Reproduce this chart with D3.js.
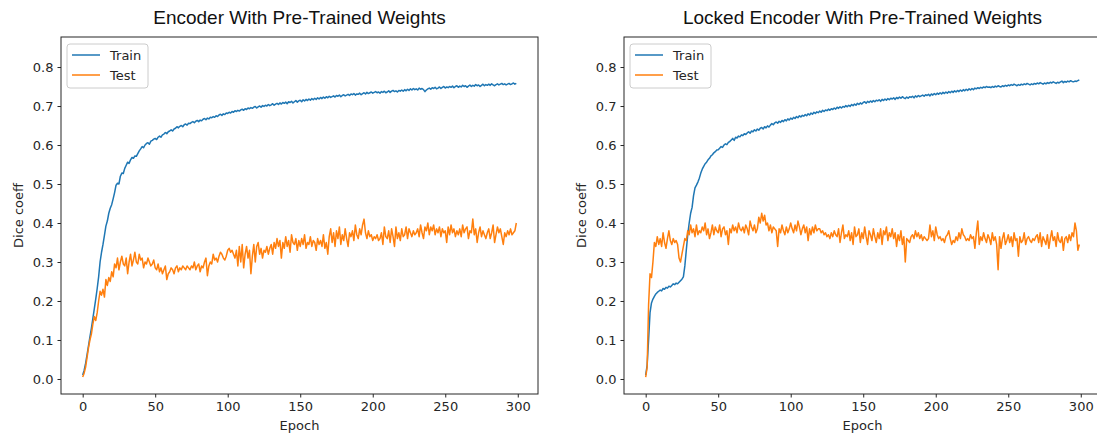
<!DOCTYPE html>
<html lang="en">
<head>
<meta charset="UTF-8">
<title>Dice coeff</title>
<style>
  body { margin: 0; padding: 0; background: #fff; }
  svg { display: block; }
  .tick text { font-family: "DejaVu Sans", sans-serif; font-size: 13px; fill: #262626; }
  .tick line { stroke: #262626; }
  .axis-label { font-family: "DejaVu Sans", sans-serif; font-size: 13px; fill: #262626; }
  .title { font-family: "Liberation Sans", Arial, sans-serif; font-size: 19px; fill: #111; }
  .legend text { font-family: "DejaVu Sans", sans-serif; font-size: 13px; fill: #262626; }
</style>
</head>
<body>
<div id="chart"></div>
<script src="https://cdn.jsdelivr.net/npm/d3@7"></script>
<script>

// data
const titles = ["Encoder With Pre-Trained Weights", "Locked Encoder With Pre-Trained Weights"];
const seriesNames = ["Train", "Test"];
const xTicks = [0, 50, 100, 150, 200, 250, 300];
const yTicks = [0.0, 0.1, 0.2, 0.3, 0.4, 0.5, 0.6, 0.7, 0.8];

const trainA = [
  0.010, 0.022, 0.040, 0.062, 0.085, 0.108, 0.130, 0.155, 0.180, 0.205,
  0.232, 0.262, 0.300, 0.325, 0.345, 0.368, 0.392, 0.405, 0.425, 0.438,
  0.447, 0.462, 0.478, 0.497, 0.502, 0.500, 0.520, 0.528, 0.527, 0.540,
  0.548, 0.556, 0.553, 0.562, 0.568, 0.566, 0.572, 0.571, 0.578, 0.585,
  0.590, 0.596, 0.593, 0.600, 0.604, 0.606, 0.602, 0.610, 0.612, 0.615,
  0.617, 0.614, 0.620, 0.623, 0.620, 0.626, 0.628, 0.632, 0.629, 0.634,
  0.636, 0.639, 0.636, 0.641, 0.643, 0.647, 0.644, 0.648, 0.650, 0.647,
  0.652, 0.654, 0.651, 0.656, 0.655, 0.658, 0.660, 0.657, 0.661, 0.663,
  0.660, 0.664, 0.662, 0.666, 0.668, 0.665, 0.669, 0.667, 0.671, 0.670,
  0.673, 0.671, 0.675, 0.673, 0.677, 0.679, 0.676, 0.680, 0.678, 0.682,
  0.681, 0.684, 0.682, 0.686, 0.684, 0.688, 0.686, 0.689, 0.687, 0.690,
  0.692, 0.689, 0.693, 0.691, 0.695, 0.693, 0.696, 0.694, 0.697, 0.699,
  0.695, 0.698, 0.700, 0.697, 0.701, 0.699, 0.702, 0.700, 0.704, 0.701,
  0.703, 0.706, 0.702, 0.705, 0.707, 0.704, 0.708, 0.705, 0.709, 0.707,
  0.710, 0.706, 0.711, 0.709, 0.712, 0.708, 0.711, 0.714, 0.710, 0.713,
  0.715, 0.711, 0.716, 0.713, 0.717, 0.714, 0.718, 0.715, 0.719, 0.716,
  0.720, 0.717, 0.721, 0.718, 0.722, 0.719, 0.723, 0.720, 0.724, 0.721,
  0.725, 0.722, 0.724, 0.726, 0.723, 0.727, 0.725, 0.728, 0.724, 0.727,
  0.729, 0.726, 0.728, 0.730, 0.727, 0.731, 0.729, 0.732, 0.728, 0.731,
  0.730, 0.733, 0.729, 0.732, 0.734, 0.731, 0.735, 0.732, 0.734, 0.736,
  0.733, 0.735, 0.737, 0.734, 0.736, 0.733, 0.737, 0.735, 0.738, 0.734,
  0.736, 0.739, 0.735, 0.738, 0.740, 0.737, 0.739, 0.736, 0.740, 0.738,
  0.741, 0.738, 0.742, 0.739, 0.743, 0.740, 0.744, 0.741, 0.745, 0.742,
  0.744, 0.741, 0.746, 0.743, 0.745, 0.742, 0.737, 0.741, 0.744, 0.746,
  0.743, 0.747, 0.745, 0.748, 0.744, 0.746, 0.749, 0.745, 0.748, 0.750,
  0.746, 0.749, 0.747, 0.750, 0.748, 0.751, 0.747, 0.750, 0.752, 0.748,
  0.751, 0.749, 0.753, 0.750, 0.752, 0.748, 0.751, 0.754, 0.750, 0.753,
  0.751, 0.755, 0.752, 0.754, 0.750, 0.753, 0.756, 0.752, 0.755, 0.753,
  0.756, 0.753, 0.757, 0.754, 0.752, 0.755, 0.757, 0.754, 0.756, 0.758,
  0.755, 0.757, 0.754, 0.756, 0.758, 0.755, 0.757, 0.759, 0.756, 0.758
];

const testA = [
  0.005, 0.015, 0.030, 0.055, 0.080, 0.100, 0.115, 0.140, 0.160, 0.150,
  0.170, 0.200, 0.225, 0.215, 0.230, 0.210, 0.255, 0.240, 0.260, 0.250,
  0.275, 0.262, 0.295, 0.285, 0.310, 0.280, 0.300, 0.315, 0.295, 0.290,
  0.310, 0.270, 0.300, 0.320, 0.290, 0.305, 0.325, 0.300, 0.295, 0.320,
  0.305, 0.310, 0.285, 0.300, 0.295, 0.310, 0.300, 0.290, 0.295, 0.305,
  0.285, 0.280, 0.295, 0.275, 0.285, 0.270, 0.280, 0.290, 0.255, 0.270,
  0.275, 0.285, 0.280, 0.270, 0.285, 0.290, 0.275, 0.285, 0.280, 0.290,
  0.285, 0.280, 0.290, 0.285, 0.280, 0.290, 0.285, 0.300, 0.280, 0.290,
  0.295, 0.275, 0.290, 0.285, 0.300, 0.310, 0.265, 0.290, 0.300, 0.295,
  0.320, 0.305, 0.310, 0.300, 0.315, 0.325, 0.320, 0.310, 0.305, 0.315,
  0.330, 0.335, 0.325, 0.330, 0.320, 0.310, 0.330, 0.290, 0.340, 0.300,
  0.345, 0.285, 0.320, 0.340, 0.310, 0.330, 0.270, 0.315, 0.345, 0.300,
  0.340, 0.350, 0.320, 0.335, 0.310, 0.330, 0.325, 0.340, 0.320, 0.335,
  0.345, 0.320, 0.350, 0.335, 0.360, 0.340, 0.355, 0.310, 0.350, 0.335,
  0.365, 0.340, 0.355, 0.325, 0.370, 0.350, 0.345, 0.360, 0.330, 0.355,
  0.340, 0.360, 0.345, 0.370, 0.335, 0.350, 0.345, 0.365, 0.340, 0.355,
  0.350, 0.330, 0.360, 0.345, 0.355, 0.340, 0.370, 0.335, 0.350, 0.320,
  0.365, 0.385, 0.350, 0.375, 0.340, 0.380, 0.360, 0.390, 0.345, 0.370,
  0.355, 0.385, 0.360, 0.340, 0.375, 0.365, 0.380, 0.355, 0.395, 0.370,
  0.360, 0.385, 0.370, 0.395, 0.410, 0.375, 0.360, 0.380, 0.365, 0.370,
  0.355, 0.365, 0.360, 0.370, 0.355, 0.360, 0.375, 0.345, 0.390, 0.365,
  0.360, 0.380, 0.350, 0.385, 0.365, 0.340, 0.390, 0.360, 0.375, 0.355,
  0.385, 0.365, 0.370, 0.390, 0.360, 0.385, 0.375, 0.365, 0.380, 0.370,
  0.375, 0.385, 0.365, 0.395, 0.375, 0.360, 0.390, 0.380, 0.400, 0.370,
  0.390, 0.380, 0.395, 0.370, 0.385, 0.375, 0.390, 0.365, 0.385, 0.375,
  0.380, 0.350, 0.390, 0.370, 0.395, 0.375, 0.385, 0.365, 0.380, 0.370,
  0.385, 0.365, 0.395, 0.375, 0.385, 0.390, 0.360, 0.380, 0.375, 0.410,
  0.370, 0.385, 0.350, 0.375, 0.390, 0.365, 0.380, 0.370, 0.360, 0.375,
  0.385, 0.360, 0.375, 0.395, 0.350, 0.370, 0.390, 0.375, 0.385, 0.365,
  0.345, 0.375, 0.365, 0.380, 0.370, 0.385, 0.370, 0.375, 0.380, 0.400
];

const trainB = [
  0.010, 0.035, 0.100, 0.170, 0.195, 0.205, 0.212, 0.218, 0.222, 0.225,
  0.228, 0.226, 0.232, 0.230, 0.235, 0.233, 0.238, 0.236, 0.240, 0.244,
  0.242, 0.246, 0.244, 0.248, 0.252, 0.256, 0.262, 0.290, 0.330, 0.370,
  0.400, 0.425, 0.440, 0.470, 0.490, 0.497, 0.505, 0.515, 0.528, 0.538,
  0.545, 0.552, 0.556, 0.562, 0.566, 0.572, 0.575, 0.580, 0.583, 0.587,
  0.588, 0.592, 0.596, 0.594, 0.600, 0.603, 0.601, 0.607, 0.609, 0.613,
  0.617, 0.612, 0.620, 0.618, 0.623, 0.621, 0.626, 0.624, 0.629, 0.627,
  0.631, 0.634, 0.630, 0.636, 0.634, 0.639, 0.636, 0.641, 0.638, 0.643,
  0.645, 0.641, 0.647, 0.644, 0.649, 0.646, 0.651, 0.655, 0.652, 0.657,
  0.659, 0.656, 0.661, 0.658, 0.663, 0.660, 0.665, 0.662, 0.667, 0.664,
  0.669, 0.666, 0.671, 0.668, 0.673, 0.670, 0.675, 0.672, 0.676, 0.674,
  0.678, 0.675, 0.680, 0.677, 0.682, 0.679, 0.684, 0.681, 0.685, 0.683,
  0.687, 0.684, 0.689, 0.686, 0.690, 0.688, 0.692, 0.689, 0.693, 0.691,
  0.695, 0.692, 0.697, 0.694, 0.698, 0.695, 0.699, 0.697, 0.701, 0.698,
  0.702, 0.699, 0.704, 0.701, 0.705, 0.702, 0.707, 0.704, 0.708, 0.705,
  0.709, 0.711, 0.707, 0.712, 0.709, 0.713, 0.710, 0.714, 0.711, 0.715,
  0.713, 0.716, 0.712, 0.717, 0.714, 0.718, 0.715, 0.719, 0.716, 0.720,
  0.718, 0.721, 0.717, 0.722, 0.719, 0.723, 0.720, 0.724, 0.721, 0.719,
  0.723, 0.720, 0.724, 0.722, 0.725, 0.721, 0.726, 0.723, 0.727, 0.724,
  0.726, 0.728, 0.725, 0.729, 0.727, 0.730, 0.726, 0.731, 0.728, 0.732,
  0.729, 0.733, 0.730, 0.734, 0.731, 0.735, 0.732, 0.736, 0.733, 0.737,
  0.734, 0.738, 0.735, 0.739, 0.736, 0.740, 0.737, 0.741, 0.738, 0.742,
  0.739, 0.743, 0.740, 0.744, 0.741, 0.745, 0.742, 0.746, 0.744, 0.747,
  0.745, 0.748, 0.746, 0.749, 0.747, 0.750, 0.748, 0.749, 0.747, 0.750,
  0.748, 0.751, 0.749, 0.752, 0.750, 0.749, 0.752, 0.750, 0.753, 0.751,
  0.754, 0.752, 0.755, 0.753, 0.756, 0.754, 0.752, 0.755, 0.753, 0.756,
  0.754, 0.757, 0.755, 0.758, 0.756, 0.754, 0.757, 0.755, 0.758, 0.756,
  0.759, 0.757, 0.760, 0.758, 0.756, 0.759, 0.757, 0.760, 0.758, 0.761,
  0.759, 0.762, 0.760, 0.758, 0.761, 0.759, 0.762, 0.764, 0.760, 0.763,
  0.761, 0.764, 0.762, 0.765, 0.763, 0.762, 0.764, 0.763, 0.765, 0.767
];

const testB = [
  0.005, 0.030, 0.190, 0.270, 0.260, 0.300, 0.350, 0.340, 0.365, 0.345,
  0.360, 0.340, 0.375, 0.350, 0.335, 0.360, 0.380, 0.355, 0.345, 0.360,
  0.350, 0.355, 0.345, 0.310, 0.300, 0.320, 0.340, 0.360, 0.355, 0.380,
  0.370, 0.395, 0.375, 0.385, 0.365, 0.395, 0.370, 0.380, 0.375, 0.390,
  0.380, 0.400, 0.370, 0.385, 0.360, 0.375, 0.395, 0.370, 0.390, 0.380,
  0.375, 0.395, 0.365, 0.385, 0.390, 0.370, 0.380, 0.345, 0.385, 0.375,
  0.395, 0.380, 0.390, 0.375, 0.400, 0.385, 0.380, 0.390, 0.375, 0.395,
  0.385, 0.370, 0.405, 0.390, 0.380, 0.395, 0.375, 0.385, 0.415, 0.400,
  0.425, 0.405, 0.420, 0.395, 0.400, 0.380, 0.395, 0.375, 0.390, 0.385,
  0.380, 0.340, 0.385, 0.375, 0.395, 0.380, 0.370, 0.390, 0.375, 0.385,
  0.400, 0.385, 0.375, 0.395, 0.380, 0.405, 0.390, 0.370, 0.385, 0.395,
  0.375, 0.390, 0.355, 0.385, 0.370, 0.390, 0.375, 0.395, 0.380, 0.385,
  0.385, 0.375, 0.380, 0.370, 0.375, 0.365, 0.370, 0.360, 0.375, 0.365,
  0.380, 0.370, 0.365, 0.385, 0.350, 0.375, 0.395, 0.360, 0.370, 0.365,
  0.380, 0.355, 0.375, 0.345, 0.390, 0.365, 0.370, 0.385, 0.350, 0.375,
  0.360, 0.390, 0.365, 0.345, 0.380, 0.370, 0.355, 0.385, 0.365, 0.350,
  0.375, 0.360, 0.385, 0.345, 0.380, 0.370, 0.390, 0.355, 0.375, 0.365,
  0.385, 0.360, 0.375, 0.340, 0.370, 0.355, 0.380, 0.345, 0.365, 0.300,
  0.360, 0.355, 0.350, 0.365, 0.370, 0.360, 0.380, 0.365, 0.375, 0.360,
  0.370, 0.355, 0.365, 0.360, 0.355, 0.360, 0.395, 0.365, 0.380, 0.355,
  0.390, 0.370, 0.360, 0.365, 0.355, 0.360, 0.350, 0.365, 0.370, 0.380,
  0.360, 0.345, 0.355, 0.350, 0.365, 0.355, 0.375, 0.360, 0.385, 0.370,
  0.365, 0.355, 0.360, 0.355, 0.370, 0.360, 0.365, 0.335, 0.375, 0.405,
  0.345, 0.365, 0.355, 0.375, 0.360, 0.350, 0.370, 0.360, 0.345, 0.375,
  0.355, 0.365, 0.345, 0.280, 0.365, 0.335, 0.360, 0.375, 0.345, 0.355,
  0.370, 0.350, 0.365, 0.340, 0.375, 0.355, 0.360, 0.315, 0.365, 0.350,
  0.355, 0.375, 0.345, 0.360, 0.365, 0.355, 0.350, 0.360, 0.355, 0.365,
  0.370, 0.350, 0.375, 0.340, 0.365, 0.355, 0.345, 0.370, 0.335, 0.360,
  0.380, 0.355, 0.365, 0.340, 0.375, 0.355, 0.350, 0.365, 0.330, 0.360,
  0.365, 0.350, 0.370, 0.355, 0.375, 0.365, 0.400, 0.380, 0.330, 0.345
];

const panels = [
  { title: titles[0], series: [trainA, testA] },
  { title: titles[1], series: [trainB, testB] }
];

// layout
const W = 1097, H = 434;
const panelLeft = [61, 624];
const marginTop = 37;
const pw = 477, ph = 357;
const colors = ["#1f77b4", "#ff7f0e"];

const svg = d3.select("#chart")
  .append("svg")
  .attr("width", W)
  .attr("height", H);

const x = d3.scaleLinear().domain([-14.95, 313.95]).range([0, pw]);
const y = d3.scaleLinear().domain([-0.0385, 0.877]).range([ph, 0]);

const line = d3.line()
  .x((d, i) => x(i))
  .y(d => y(d));

panels.forEach((p, k) => {
  const g = svg.append("g")
    .attr("transform", `translate(${panelLeft[k]}, ${marginTop})`);

  g.append("defs").append("clipPath")
    .attr("id", "clip" + k)
    .append("rect")
    .attr("width", pw)
    .attr("height", ph);

  g.append("g")
    .attr("clip-path", `url(#clip${k})`)
    .selectAll("path")
    .data(p.series)
    .enter()
    .append("path")
    .attr("d", d => line(d))
    .attr("fill", "none")
    .attr("stroke", (d, i) => colors[i])
    .attr("stroke-width", 1.5)
    .attr("stroke-linejoin", "round");

  // frame
  g.append("rect")
    .attr("width", pw)
    .attr("height", ph)
    .attr("fill", "none")
    .attr("stroke", "#262626")
    .attr("stroke-width", 1);

  const xAxis = g.append("g")
    .attr("transform", `translate(0, ${ph})`)
    .call(d3.axisBottom(x).tickValues(xTicks).tickSize(3.5).tickPadding(4).tickFormat(d3.format("d")));
  xAxis.select(".domain").remove();

  const yAxis = g.append("g")
    .call(d3.axisLeft(y).tickValues(yTicks).tickSize(3.5).tickPadding(4).tickFormat(d3.format(".1f")));
  yAxis.select(".domain").remove();

  g.append("text")
    .attr("class", "axis-label")
    .attr("x", pw / 2)
    .attr("y", ph + 36)
    .attr("text-anchor", "middle")
    .text("Epoch");

  g.append("text")
    .attr("class", "axis-label")
    .attr("transform", `translate(-38, ${ph / 2}) rotate(-90)`)
    .attr("text-anchor", "middle")
    .text("Dice coeff");

  g.append("text")
    .attr("class", "title")
    .attr("x", pw / 2)
    .attr("y", -13)
    .attr("text-anchor", "middle")
    .text(p.title);

  // legend
  const legend = g.append("g")
    .attr("class", "legend")
    .attr("transform", "translate(6, 7)");

  legend.append("rect")
    .attr("width", 81)
    .attr("height", 44)
    .attr("rx", 3)
    .attr("fill", "white")
    .attr("fill-opacity", 0.8)
    .attr("stroke", "#cccccc")
    .attr("stroke-width", 1);

  const items = legend.selectAll(".item")
    .data(seriesNames)
    .enter()
    .append("g")
    .attr("class", "item")
    .attr("transform", (d, i) => `translate(0, ${11 + i * 20})`);

  items.append("line")
    .attr("x1", 5)
    .attr("x2", 33)
    .attr("stroke", (d, i) => colors[i])
    .attr("stroke-width", 1.5);

  items.append("text")
    .attr("x", 43)
    .attr("dy", "0.35em")
    .text(d => d);
});

</script>
</body>
</html>
